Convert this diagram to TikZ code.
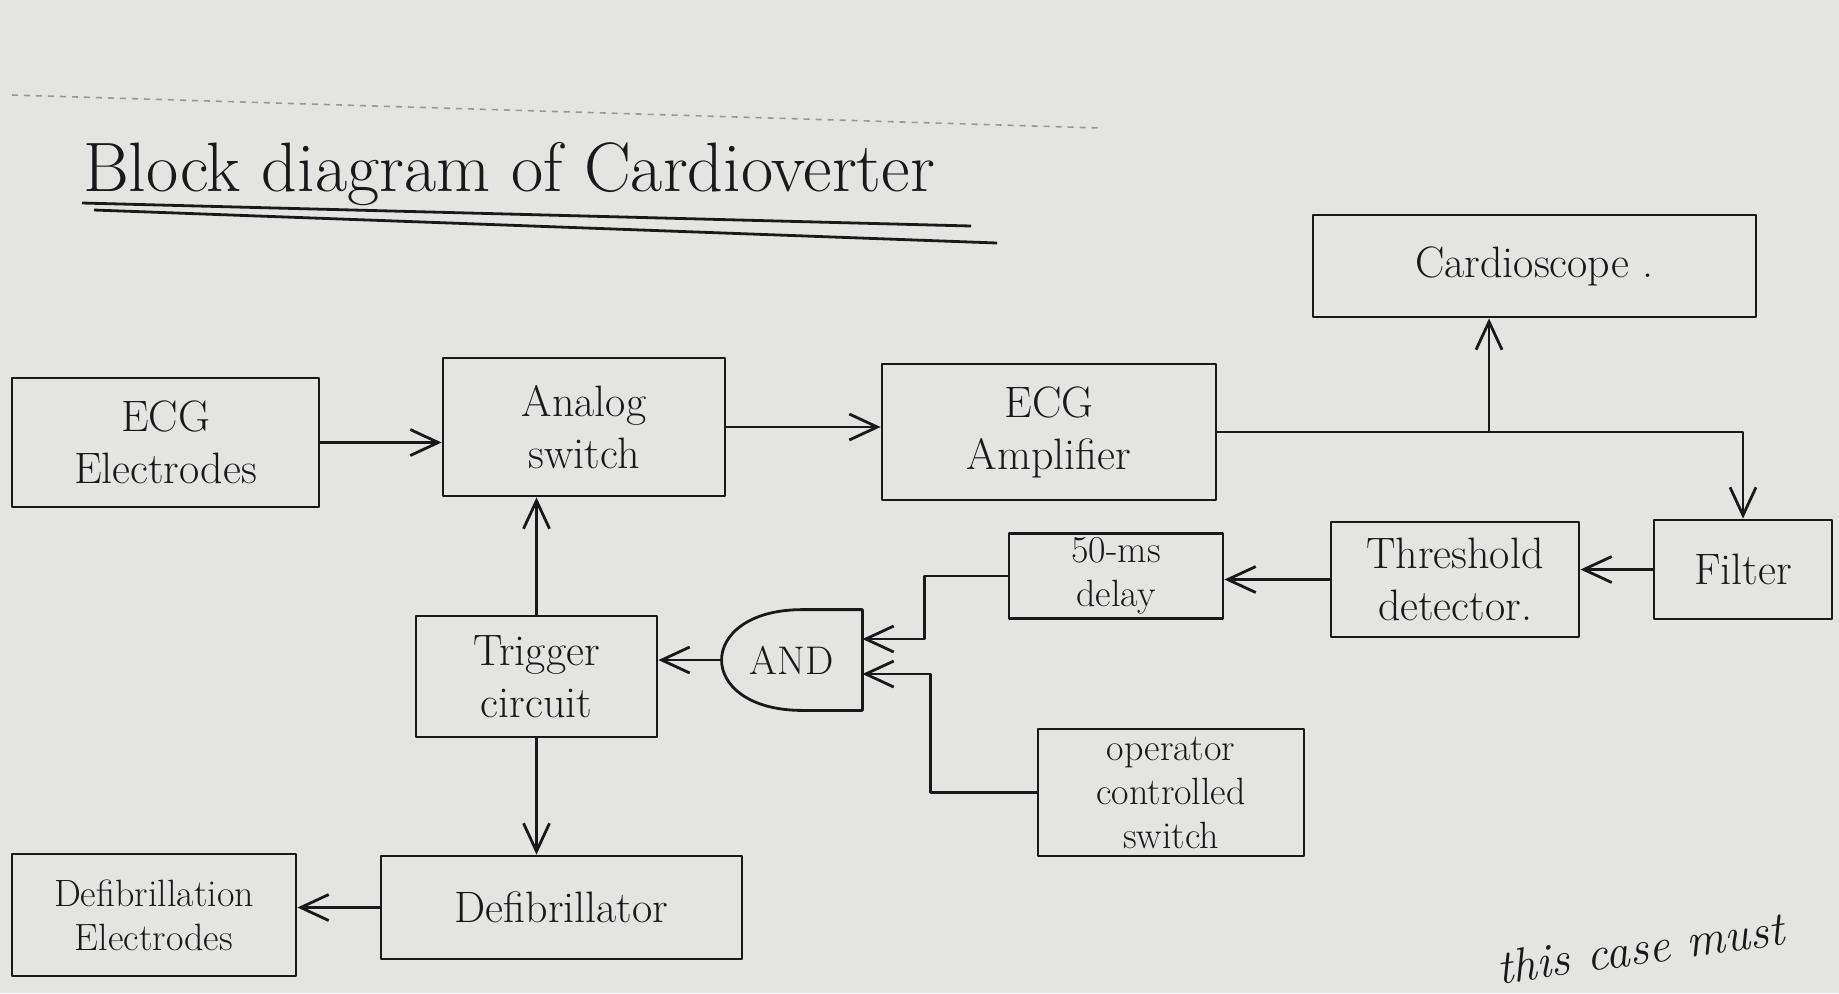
\documentclass[tikz,border=0pt]{standalone}
\usetikzlibrary{arrows.meta}
\definecolor{paper}{RGB}{228,229,226}
\definecolor{ink}{RGB}{25,25,28}
\tikzset{
  blk/.style={draw=ink, line width=1.4pt, inner sep=2pt, align=center, text=ink,
    font=\fontsize{22}{26}\selectfont},
  smalltxt/.style={font=\fontsize{19}{22}\selectfont},
  wire/.style={draw=ink, line width=1.4pt},
  arr/.style={wire, -{Straight Barb[length=14pt,width=13pt]}},
}

\begin{document}
\begin{tikzpicture}[x=0.5pt, y=-0.5pt, line join=round]
  \useasboundingbox (0,0) rectangle (1839,993);
  \fill[paper] (0,0) rectangle (1839,993);
  % ruled line of the sheet
  \draw[gray!80, dashed, line width=0.8pt] (12,95) -- (1100,128);
  % title
  \node[anchor=base west, text=ink, font=\fontsize{35}{40}\selectfont] (title) at (76,191) {Block diagram of Cardioverter};
  \draw[wire] (82,203) -- (971,226);
  \draw[wire] (94,210) -- (997,243);

  % blocks
  \node[blk, minimum width=221.5pt, minimum height=51pt] (scope) at (1534.5,266) {Cardioscope .};
  \node[blk, minimum width=153.5pt, minimum height=64.5pt] (ecgel) at (165.5,442.5) {ECG\\Electrodes};
  \node[blk, minimum width=141pt, minimum height=69pt] (aswitch) at (584,427) {Analog\\switch};
  \node[blk, minimum width=167pt, minimum height=68pt] (amp) at (1049,432) {ECG\\Amplifier};
  \node[blk, minimum width=89pt, minimum height=49.5pt] (filter) at (1743,569.5) {Filter};
  \node[blk, minimum width=124pt, minimum height=57.5pt] (thresh) at (1455,579.5) {Threshold\\detector.};
  \node[blk, smalltxt, minimum width=107pt, minimum height=42pt] (delay) at (1116,576) {50-ms\\delay};
  \node[text=ink, font=\fontsize{20}{24}\selectfont, minimum width=70.5pt, minimum height=50pt] (andg) at (791.5,660) {AND};
  \node[blk, minimum width=120.5pt, minimum height=60.5pt] (trig) at (536.5,676.5) {Trigger\\circuit};
  \node[blk, smalltxt, minimum width=133pt, minimum height=63.5pt] (opsw) at (1171,792.5) {operator\\controlled\\switch};
  \node[blk, minimum width=180.5pt, minimum height=51.5pt] (defib) at (561.5,907.5) {Defibrillator};
  \node[blk, smalltxt, minimum width=142pt, minimum height=61pt] (defel) at (154,915) {Defibrillation\\Electrodes};

  % AND gate outline
  \draw[wire] (andg.north east) -- (andg.south east) -- ([xshift=-30pt]andg.south east)
    .. controls ([xshift=-13pt]andg.south west) and ([xshift=-13pt]andg.north west) .. ([xshift=-30pt]andg.north east) -- cycle;

  % connectors
  \draw[arr] (ecgel.east) -- (ecgel.east -| aswitch.west);
  \draw[arr] (aswitch.east) -- (aswitch.east -| amp.west);
  \coordinate (jn) at (1489,432);
  \draw[arr] (amp.east) -- (amp.east -| filter.north) -- (filter.north);
  \draw[arr] (jn) -- (jn |- scope.south);
  \draw[arr] (filter.west) -- (filter.west -| thresh.east);
  \draw[arr] (thresh.west) -- (thresh.west -| delay.east);
  \draw[arr] (delay.west) -- ++(-83,0) |- ([yshift=10.5pt]andg.east);
  \draw[arr] (opsw.west) -- ++(-106,0) |- ([yshift=-7pt]andg.east);
  \draw[arr] (andg.west) -- (andg.west -| trig.east);
  \draw[arr] (trig.north) -- (trig.north |- aswitch.south);
  \draw[arr] (trig.south) -- (trig.south |- defib.north);
  \draw[arr] (defib.west) -- (defib.west -| defel.east);

  % text running on below
  \node[rotate=8, text=ink, font=\itshape\fontsize{24}{28}\selectfont] (note) at (1640,948) {this case must};
\end{tikzpicture}
\end{document}
